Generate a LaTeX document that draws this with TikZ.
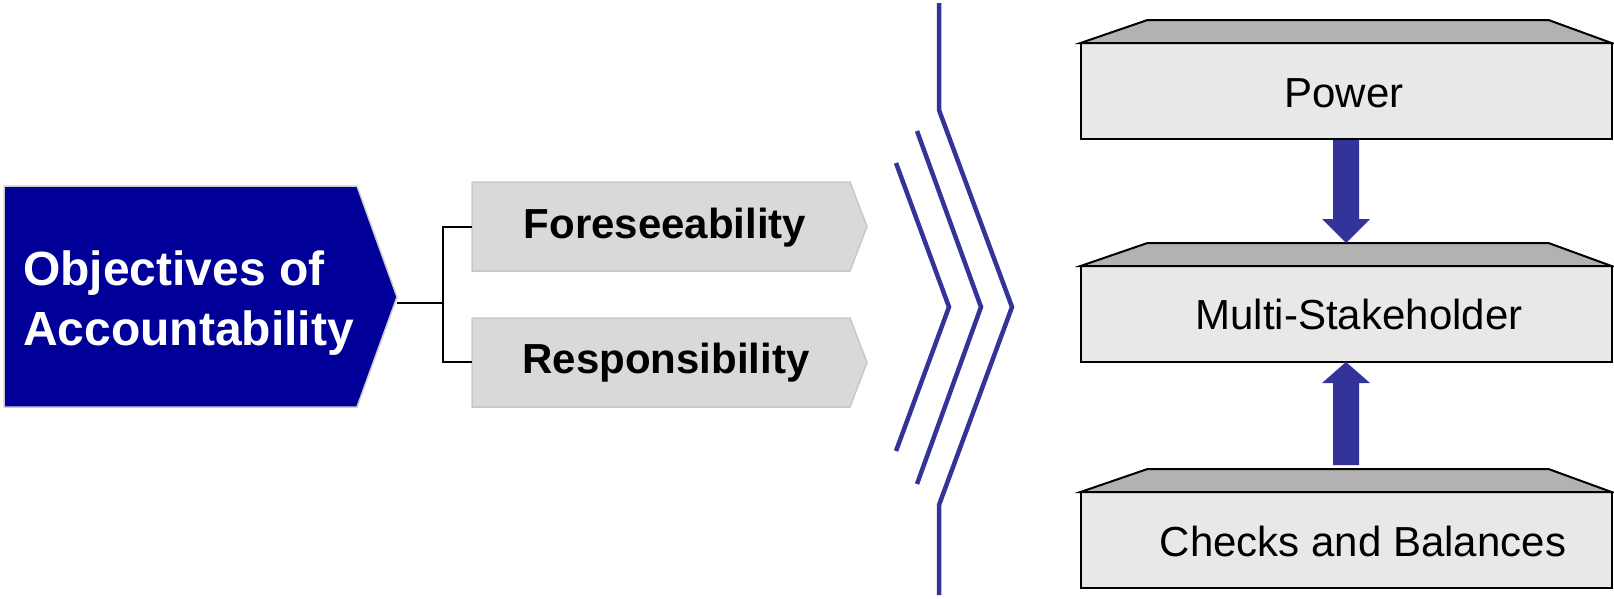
\documentclass[tikz,border=0pt]{standalone}
\usepackage{fontspec}
\setmainfont{Liberation Sans}
\definecolor{objblue}{HTML}{000099}
\definecolor{chevblue}{HTML}{333399}
\definecolor{facegray}{HTML}{E8E8E8}
\definecolor{topgray}{HTML}{B2B2B2}
\definecolor{tabgray}{HTML}{D9D9D9}
\definecolor{tabedge}{HTML}{C8C8C8}

\begin{document}
\begin{tikzpicture}[x=1pt,y=-1pt,
  tab/.style={fill=tabgray, draw=tabedge, line width=1.5pt},
  tabtext/.style={anchor=base, font=\fontsize{42}{50}\selectfont\bfseries},
  box/.style={draw, fill=facegray, line width=2pt, minimum width=531pt,
    minimum height=96pt, inner sep=0pt, outer sep=0pt},
  boxtop/.style={draw, fill=topgray, line width=2pt},
  boxtext/.style={anchor=base, font=\fontsize{42}{50}\selectfont},
  chevron/.style={chevblue, line width=4.5pt},
  link/.style={line width=1.8pt}]
\useasboundingbox (0,0) rectangle (1614,598);

% left block
\draw [fill=objblue, draw=gray!40, line width=1.5pt]
(4,186) -- (357,186) -- (397,297) -- (357,407) -- (4,407) -- cycle;
\node [anchor=west, text=white, align=left, inner sep=0pt,
  font=\fontsize{48}{60}\selectfont\bfseries]
  (objectives) at (23,303) {Objectives of\\Accountability};
\coordinate (objtip) at (397,303);

% the two tabs
\draw [tab] (472,182) -- (850,182) -- (867,226.5) -- (850,271) -- (472,271) -- cycle;
\node [tabtext] (fore) at (665,238) {Foreseeability};
\draw [tab] (472,318) -- (850,318) -- (867,362.5) -- (850,407) -- (472,407) -- cycle;
\node [tabtext] (resp) at (666,373) {Responsibility};

\coordinate (fork) at (443,303);
\coordinate (forein) at (472,227);
\coordinate (respin) at (472,362);
\draw [link] (objtip) -- (fork);
\draw [link] (forein) -| (fork) |- (respin);

% chevrons
\draw [chevron] (939,3) -- (939,110) -- (1012,307) -- (939,505) -- (939,595);
\draw [chevron] (917,131) -- (981,307) -- (917,484);
\draw [chevron] (896,163) -- (949,307) -- (896,451);

% right column
\node [box] (power) at (1346,91) {};
\draw [boxtop] (power.north west) -- ([xshift=67pt,yshift=23pt]power.north west)
  -- ([xshift=-63pt,yshift=23pt]power.north east) -- (power.north east) -- cycle;
\node [boxtext] (powertext) at (1344,107) {Power};

\node [box] (multi) at (1346,314) {};
\draw [boxtop] (multi.north west) -- ([xshift=67pt,yshift=23pt]multi.north west)
  -- ([xshift=-63pt,yshift=23pt]multi.north east) -- (multi.north east) -- cycle;
\node [boxtext] (multitext) at (1359,329) {Multi-Stakeholder};

\node [box] (checks) at (1346,540) {};
\draw [boxtop] (checks.north west) -- ([xshift=67pt,yshift=23pt]checks.north west)
  -- ([xshift=-63pt,yshift=23pt]checks.north east) -- (checks.north east) -- cycle;
\node [boxtext] (checkstext) at (1363,556) {Checks and Balances};

\coordinate (multitop) at ([yshift=23pt]multi.north);
\coordinate (checkstop) at ([yshift=27pt]checks.north);

% block arrows
\fill [chevblue] ([xshift=-13pt,yshift=-1pt]power.south)
  -- ([xshift=-13pt,yshift=24pt]multitop) -- ([xshift=-24pt,yshift=24pt]multitop)
  -- (multitop) -- ([xshift=24pt,yshift=24pt]multitop)
  -- ([xshift=13pt,yshift=24pt]multitop) -- ([xshift=13pt,yshift=-1pt]power.south) -- cycle;
\fill [chevblue] ([xshift=-13pt]checkstop)
  -- ([xshift=-13pt,yshift=-21pt]multi.south) -- ([xshift=-24pt,yshift=-21pt]multi.south)
  -- (multi.south) -- ([xshift=24pt,yshift=-21pt]multi.south)
  -- ([xshift=13pt,yshift=-21pt]multi.south) -- ([xshift=13pt]checkstop) -- cycle;
\end{tikzpicture}
\end{document}
